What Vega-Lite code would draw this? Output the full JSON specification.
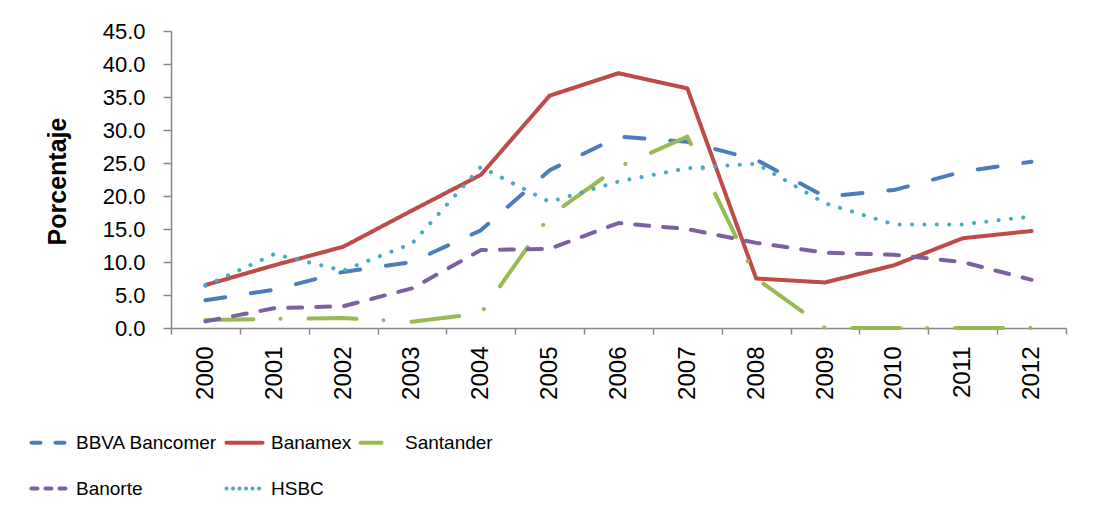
{
  "$schema": "https://vega.github.io/schema/vega-lite/v6.json",
  "width": 895,
  "height": 297,
  "autosize": {"type": "none"},
  "padding": {"left": 171, "top": 31, "right": 33, "bottom": 194},
  "background": "white",
  "config": {
    "view": {"stroke": null},
    "font": "Liberation Sans",
    "legend": {
      "title": null,
      "orient": "none",
      "legendX": -142,
      "legendY": 391,
      "direction": "horizontal",
      "columns": 3,
      "gridAlign": "each",
      "columnPadding": 0,
      "rowPadding": 15,
      "symbolType": "stroke",
      "symbolSize": 1300,
      "symbolStrokeWidth": 4,
      "labelFont": "Liberation Sans",
      "labelFontSize": 19,
      "labelColor": "black",
      "labelOffset": 6,
      "labelLimit": 300
    }
  },
  "data": {
    "values": [
      {"year": "2000", "bank": "BBVA Bancomer", "value": 4.2},
      {"year": "2001", "bank": "BBVA Bancomer", "value": 5.8},
      {"year": "2002", "bank": "BBVA Bancomer", "value": 8.5},
      {"year": "2003", "bank": "BBVA Bancomer", "value": 10.0},
      {"year": "2004", "bank": "BBVA Bancomer", "value": 14.8},
      {"year": "2005", "bank": "BBVA Bancomer", "value": 23.9},
      {"year": "2006", "bank": "BBVA Bancomer", "value": 29.0},
      {"year": "2007", "bank": "BBVA Bancomer", "value": 28.2},
      {"year": "2008", "bank": "BBVA Bancomer", "value": 25.5},
      {"year": "2009", "bank": "BBVA Bancomer", "value": 19.9},
      {"year": "2010", "bank": "BBVA Bancomer", "value": 20.9},
      {"year": "2011", "bank": "BBVA Bancomer", "value": 23.7},
      {"year": "2012", "bank": "BBVA Bancomer", "value": 25.2},
      {"year": "2000", "bank": "Banamex", "value": 6.5},
      {"year": "2001", "bank": "Banamex", "value": 9.5},
      {"year": "2002", "bank": "Banamex", "value": 12.3},
      {"year": "2003", "bank": "Banamex", "value": 17.8},
      {"year": "2004", "bank": "Banamex", "value": 23.2},
      {"year": "2005", "bank": "Banamex", "value": 35.2},
      {"year": "2006", "bank": "Banamex", "value": 38.6},
      {"year": "2007", "bank": "Banamex", "value": 36.3},
      {"year": "2008", "bank": "Banamex", "value": 7.5},
      {"year": "2009", "bank": "Banamex", "value": 6.9},
      {"year": "2010", "bank": "Banamex", "value": 9.5},
      {"year": "2011", "bank": "Banamex", "value": 13.6},
      {"year": "2012", "bank": "Banamex", "value": 14.7},
      {"year": "2000", "bank": "Santander", "value": 1.2},
      {"year": "2001", "bank": "Santander", "value": 1.4},
      {"year": "2002", "bank": "Santander", "value": 1.5},
      {"year": "2003", "bank": "Santander", "value": 0.95},
      {"year": "2004", "bank": "Santander", "value": 2.2},
      {"year": "2005", "bank": "Santander", "value": 17.0},
      {"year": "2006", "bank": "Santander", "value": 24.4},
      {"year": "2007", "bank": "Santander", "value": 29.0},
      {"year": "2008", "bank": "Santander", "value": 7.5},
      {"year": "2009", "bank": "Santander", "value": 0.0},
      {"year": "2010", "bank": "Santander", "value": 0.0},
      {"year": "2011", "bank": "Santander", "value": 0.0},
      {"year": "2012", "bank": "Santander", "value": 0.0},
      {"year": "2000", "bank": "Banorte", "value": 1.0},
      {"year": "2001", "bank": "Banorte", "value": 3.0},
      {"year": "2002", "bank": "Banorte", "value": 3.3},
      {"year": "2003", "bank": "Banorte", "value": 6.0},
      {"year": "2004", "bank": "Banorte", "value": 11.8},
      {"year": "2005", "bank": "Banorte", "value": 12.0},
      {"year": "2006", "bank": "Banorte", "value": 15.9},
      {"year": "2007", "bank": "Banorte", "value": 15.0},
      {"year": "2008", "bank": "Banorte", "value": 12.9},
      {"year": "2009", "bank": "Banorte", "value": 11.4},
      {"year": "2010", "bank": "Banorte", "value": 11.1},
      {"year": "2011", "bank": "Banorte", "value": 10.0},
      {"year": "2012", "bank": "Banorte", "value": 7.3},
      {"year": "2000", "bank": "HSBC", "value": 6.4},
      {"year": "2001", "bank": "HSBC", "value": 11.2},
      {"year": "2002", "bank": "HSBC", "value": 8.7},
      {"year": "2003", "bank": "HSBC", "value": 12.8},
      {"year": "2004", "bank": "HSBC", "value": 24.4},
      {"year": "2005", "bank": "HSBC", "value": 19.1},
      {"year": "2006", "bank": "HSBC", "value": 22.2},
      {"year": "2007", "bank": "HSBC", "value": 24.2},
      {"year": "2008", "bank": "HSBC", "value": 24.9},
      {"year": "2009", "bank": "HSBC", "value": 18.9},
      {"year": "2010", "bank": "HSBC", "value": 15.7},
      {"year": "2011", "bank": "HSBC", "value": 15.7},
      {"year": "2012", "bank": "HSBC", "value": 16.9}
    ]
  },
  "encoding": {
    "x": {
      "field": "year",
      "type": "ordinal",
      "bandPosition": 0.5,
      "scale": {"type": "band", "paddingInner": 0, "paddingOuter": 0},
      "axis": {
        "title": null,
        "labelAngle": -90,
        "labelFontSize": 24,
        "labelColor": "black",
        "labelPadding": 12,
        "tickBand": "extent",
        "tickSize": 6,
        "tickColor": "#868686",
        "tickWidth": 1.5,
        "domainColor": "#868686",
        "domainWidth": 1.5,
        "grid": false
      }
    },
    "y": {
      "field": "value",
      "type": "quantitative",
      "scale": {"domain": [0, 45], "nice": false},
      "axis": {
        "title": "Porcentaje",
        "titleFontSize": 25,
        "titleFontWeight": "bold",
        "titleColor": "black",
        "titleX": -106,
        "titleY": 150,
        "titleBaseline": "alphabetic",
        "titleAlign": "center",
        "titleAngle": -90,
        "values": [0, 5, 10, 15, 20, 25, 30, 35, 40, 45],
        "format": ".1f",
        "labelFontSize": 22,
        "labelColor": "black",
        "labelPadding": 18,
        "tickSize": 8,
        "tickColor": "#868686",
        "tickWidth": 1.5,
        "domainColor": "#868686",
        "domainWidth": 1.5,
        "grid": false
      }
    }
  },
  "layer": [
    {
      "mark": {"type": "line", "strokeWidth": 4, "strokeCap": "round", "strokeJoin": "round"},
      "encoding": {
        "color": {
          "field": "bank",
          "type": "nominal",
          "scale": {
            "domain": ["BBVA Bancomer", "Banamex", "Santander", "Banorte", "HSBC"],
            "range": ["#4A7EBB", "#BE4B48", "#98B954", "#7D60A0", "#46AAC5"]
          },
          "legend": null
        },
        "strokeDash": {
          "field": "bank",
          "type": "nominal",
          "scale": {
            "domain": ["BBVA Bancomer", "Banamex", "Santander", "Banorte", "HSBC"],
            "range": [[20, 26], [1, 0], [48, 27, 0.1, 28], [14, 14], [0.1, 12.3]]
          },
          "legend": null
        }
      }
    },
    {
      "transform": [{"filter": "false"}],
      "mark": {"type": "line", "strokeWidth": 4, "strokeCap": "round"},
      "encoding": {
        "color": {
          "field": "bank",
          "type": "nominal",
          "scale": {
            "domain": ["BBVA Bancomer", "Banamex", "Santander", "Banorte", "HSBC"],
            "range": ["#4A7EBB", "#BE4B48", "#98B954", "#7D60A0", "#46AAC5"]
          },
          "legend": {
            "encode": {"symbols": {"update": {"strokeCap": {"value": "round"}}}}
          }
        },
        "strokeDash": {
          "field": "bank",
          "type": "nominal",
          "scale": {
            "domain": ["BBVA Bancomer", "Banamex", "Santander", "Banorte", "HSBC"],
            "range": [[9, 15], [1, 0], [21, 100], [6, 8], [0.1, 6.4]]
          },
          "legend": {
            "encode": {"symbols": {"update": {"strokeCap": {"value": "round"}}}}
          }
        }
      }
    }
  ],
  "resolve": {"scale": {"color": "independent", "strokeDash": "independent"}}
}
